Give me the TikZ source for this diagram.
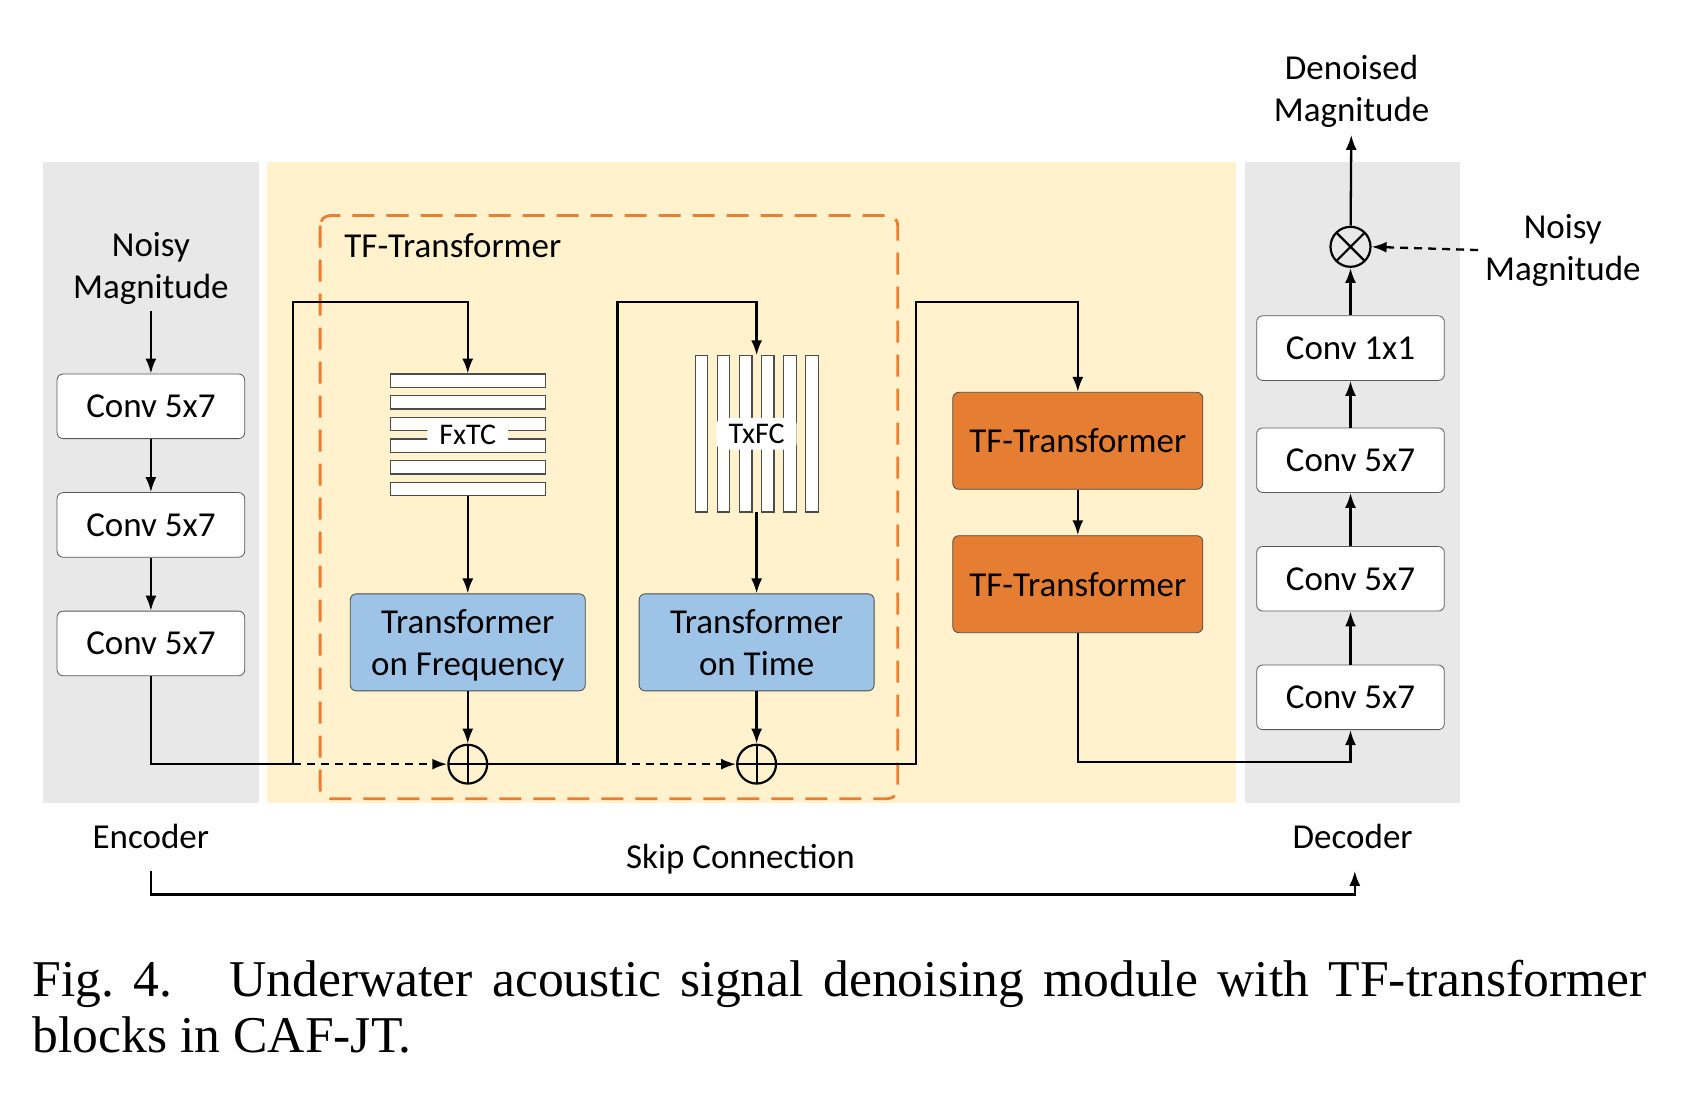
\documentclass[tikz,border=0pt]{standalone}
\usepackage{fontspec}
\setmainfont{Carlito}
\newfontfamily\capfont{Liberation Serif}
\usetikzlibrary{arrows.meta,positioning}

\definecolor{panelgray}{RGB}{232,232,232}
\definecolor{panelyellow}{RGB}{255,242,204}
\definecolor{tfblue}{RGB}{157,195,230}
\definecolor{tforange}{RGB}{229,126,50}
\definecolor{lineorange}{RGB}{237,125,49}

\begin{document}
\begin{tikzpicture}[x=0.5389pt,y=0.5389pt,yscale=-1,xscale=1,
  every node/.style={font=\fontsize{17.5}{21}\selectfont},
  convbox/.style={draw=black!65,rounded corners=3pt,fill=white,minimum width=93.8pt,minimum height=32.3pt,inner sep=0pt},
  tfbox/.style={draw=black!70,rounded corners=3pt,fill=tfblue,minimum width=117.5pt,minimum height=48.5pt,inner sep=0pt,align=center},
  tftbox/.style={draw=black!70,rounded corners=3pt,fill=tforange,minimum width=125pt,minimum height=48.5pt,inner sep=0pt},
  opsum/.style={circle,draw,line width=1.1pt,minimum size=19.4pt,inner sep=0pt,
    path picture={\draw[line width=1.1pt] (path picture bounding box.north) -- (path picture bounding box.south) (path picture bounding box.west) -- (path picture bounding box.east);}},
  opmul/.style={circle,draw,line width=1.1pt,minimum size=20pt,inner sep=0pt,
    path picture={\draw[line width=1.1pt] (path picture bounding box.north west) -- (path picture bounding box.south east) (path picture bounding box.north east) -- (path picture bounding box.south west);}},
  flow/.style={line width=1.15pt,-{Latex[length=7.5pt,width=5.5pt]}},
  link/.style={line width=1.15pt},
  skipflow/.style={flow,dash pattern=on 4pt off 3pt},
  bar/.style={draw=black!70,fill=white,line width=0.6pt},
  stacklbl/.style={fill=white,rounded corners=3pt,inner xsep=6pt,inner ysep=3pt,font=\fontsize{15}{18}\selectfont}
]
\useasboundingbox (0,0) rectangle (1568,1028);

%Shape: Rectangle [panels]
\fill[panelgray] (40,150) rectangle (240,745);
\fill[panelyellow] (248,150) rectangle (1147,745);
\fill[panelgray] (1155,150) rectangle (1355,745);
%Shape: Rectangle [dashed block]
\draw[lineorange,line width=1.4pt,dash pattern=on 11pt off 6pt,rounded corners=5pt] (297,200) rectangle (833,741);
% Text Node
\node[anchor=west] (tflbl) at (313,228) {TF-Transformer};

% encoder
\node[align=center] (noisyin) at (140,249) {Noisy\\Magnitude};
\node[convbox] (enc1) at (140,377) {Conv 5x7};
\node[convbox] (enc2) at (140,487) {Conv 5x7};
\node[convbox] (enc3) at (140,597) {Conv 5x7};

% FxTC stack
\node[minimum width=77.6pt,minimum height=60.9pt,inner sep=0pt] (fxtc) at (434,403.5) {};
\foreach \i in {0,...,5}
  \draw[bar] (362,347+\i*20.1) rectangle (506,359.4+\i*20.1);
\node[stacklbl] (fxtclbl) at (fxtc) {FxTC};

% TxFC stack
\node[minimum width=61.4pt,minimum height=78.1pt,inner sep=0pt] (txfc) at (702,402.5) {};
\foreach \i in {0,...,5}
  \draw[bar] (645+\i*20.5,330) rectangle (656.7+\i*20.5,475);
\node[stacklbl] (txfclbl) at (txfc) {TxFC};

\node[tfbox] (tffreq) at (434,596) {Transformer\\\raisebox{0pt}[\height][0pt]{on Frequency}};
\node[tfbox] (tftime) at (702,596) {Transformer\\on Time};
\node[opsum] (sum1) at (434,709) {};
\node[opsum] (sum2) at (702,709) {};

\node[tftbox] (tft1) at (1000,409) {TF-Transformer};
\node[tftbox] (tft2) at (1000,542) {TF-Transformer};

% decoder
\node[convbox] (dec4) at (1253,647) {Conv 5x7};
\node[convbox] (dec3) at (1253,537) {Conv 5x7};
\node[convbox] (dec2) at (1253,427) {Conv 5x7};
\node[convbox] (dec1) at (1253,323) {Conv 1x1};
\node[opmul] (mul) at (1253,229) {};
\node[align=center] (denoised) at (1254,85) {Denoised\\Magnitude};
\node[align=center] (noisyout) at (1450,232) {Noisy\\Magnitude};

% Text Node
\node (enc) at (140,776) {Encoder};
\node (dec) at (1255,776) {Decoder};
\node (skip) at (687,797) {Skip Connection};

\coordinate (j1) at (272,709);
\coordinate (loop1) at (272,280);
\coordinate (j2) at (573,709);
\coordinate (loop2) at (573,280);
\coordinate (loop3) at (850,280);
\coordinate (outlow) at (1253,707);
\coordinate (skipa) at (140,808);
\coordinate (skipb) at (1257,808);

%Straight Lines
\draw[flow] (noisyin) -- (enc1);
\draw[flow] (enc1) -- (enc2);
\draw[flow] (enc2) -- (enc3);
\draw[link] (enc3.south) |- (j1);
\draw[skipflow] (j1) -- (sum1.west);
\draw[flow] (j1) -- (loop1) -| (fxtc.north);
\draw[flow] (fxtc.south) -- (tffreq.north);
\draw[flow] (tffreq.south) -- (sum1.north);
\draw[link] (sum1.east) -- (j2);
\draw[skipflow] (j2) -- (sum2.west);
\draw[flow] (j2) -- (loop2) -| (txfc.north);
\draw[flow] (txfc.south) -- (tftime.north);
\draw[flow] (tftime.south) -- (sum2.north);
\draw[flow] (sum2.east) -| (loop3) -| (tft1.north);
\draw[flow] (tft1) -- (tft2);
\draw[flow] (tft2.south) |- (outlow) -- (dec4.south);
\draw[flow] (dec4) -- (dec3);
\draw[flow] (dec3) -- (dec2);
\draw[flow] (dec2) -- (dec1);
\draw[flow] (dec1) -- (mul);
\draw[flow] (mul) -- (denoised);
\draw[skipflow] (noisyout.west) -- (mul.east);
\draw[flow] (skipa) -- ++(0,22) -| (skipb);

% Caption
\node[anchor=base west,text width=807pt,align=justify,inner sep=0pt,font=\capfont\fontsize{25.8}{28}\selectfont] (caption) at (30,925)
  {Fig.~4.\hspace{1.1em}Underwater acoustic signal denoising module with TF-transformer\linebreak blocks in CAF-JT.};
\end{tikzpicture}
\end{document}
